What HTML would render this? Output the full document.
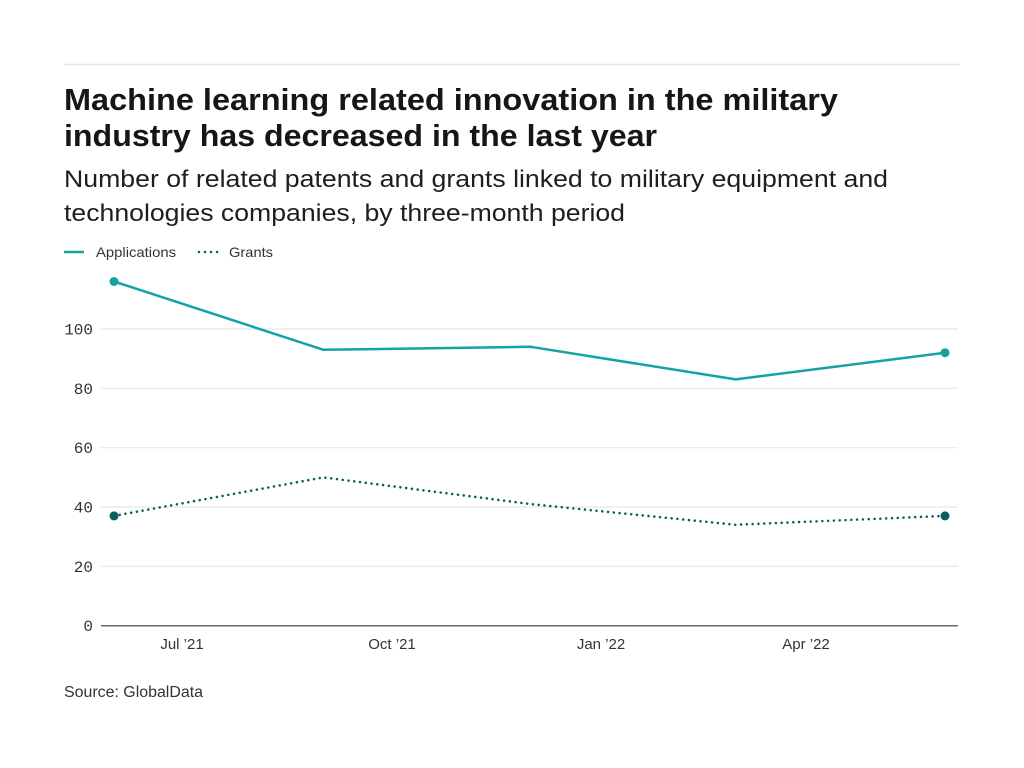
<!DOCTYPE html>
<html>
<head>
<meta charset="utf-8">
<style>
  html, body { margin:0; padding:0; background:#ffffff; }
  svg { display:block; }
</style>
</head>
<body>
<svg width="1024" height="768" viewBox="0 0 1024 768" xmlns="http://www.w3.org/2000/svg">
  <rect x="0" y="0" width="1024" height="768" fill="#ffffff"/>
  <!-- top rule -->
  <line x1="64" y1="64.5" x2="960" y2="64.5" stroke="#e2e2e2" stroke-width="1.5"/>

  <!-- title -->
  <g font-family="'Liberation Sans', sans-serif" fill="#161616">
    <text x="64" y="110" font-size="30.5" font-weight="bold" textLength="774" lengthAdjust="spacingAndGlyphs">Machine learning related innovation in the military</text>
    <text x="64" y="146" font-size="30.5" font-weight="bold" textLength="593" lengthAdjust="spacingAndGlyphs">industry has decreased in the last year</text>
    <text x="64" y="187" font-size="24" textLength="824" lengthAdjust="spacingAndGlyphs" fill="#1e1e1e">Number of related patents and grants linked to military equipment and</text>
    <text x="64" y="221" font-size="24" textLength="561" lengthAdjust="spacingAndGlyphs" fill="#1e1e1e">technologies companies, by three-month period</text>
  </g>

  <!-- legend -->
  <line x1="64" y1="252" x2="84" y2="252" stroke="#14a3a3" stroke-width="2.5"/>
  <text x="96" y="257" font-family="'Liberation Sans', sans-serif" font-size="14" fill="#333" textLength="80" lengthAdjust="spacingAndGlyphs">Applications</text>
  <line x1="199" y1="252" x2="219" y2="252" stroke="#0b5e5e" stroke-width="2.5" stroke-dasharray="0.01 6" stroke-linecap="round"/>
  <text x="229" y="257" font-family="'Liberation Sans', sans-serif" font-size="14" fill="#333" textLength="44" lengthAdjust="spacingAndGlyphs">Grants</text>

  <!-- gridlines -->
  <g stroke="#e8e8e8" stroke-width="1.2">
    <line x1="101" y1="566.4" x2="958" y2="566.4"/>
    <line x1="101" y1="507" x2="958" y2="507"/>
    <line x1="101" y1="447.7" x2="958" y2="447.7"/>
    <line x1="101" y1="388.3" x2="958" y2="388.3"/>
    <line x1="101" y1="329" x2="958" y2="329"/>
  </g>
  <!-- axis -->
  <line x1="101" y1="625.7" x2="958" y2="625.7" stroke="#6a6a6a" stroke-width="1.5"/>

  <!-- y labels -->
  <g font-family="'Liberation Mono', monospace" font-size="16" fill="#333" text-anchor="end">
    <text x="93" y="631">0</text>
    <text x="93" y="572">20</text>
    <text x="93" y="512.5">40</text>
    <text x="93" y="453">60</text>
    <text x="93" y="394">80</text>
    <text x="93" y="334.5">100</text>
  </g>

  <!-- x labels -->
  <g font-family="'Liberation Sans', sans-serif" font-size="15" fill="#333" text-anchor="middle">
    <text x="182" y="649">Jul ’21</text>
    <text x="392" y="649">Oct ’21</text>
    <text x="601" y="649">Jan ’22</text>
    <text x="806" y="649">Apr ’22</text>
  </g>

  <!-- Applications -->
  <polyline points="114,281.5 323.5,349.8 530.7,346.8 735.6,379.4 945,352.7" fill="none" stroke="#14a3a3" stroke-width="2.5" stroke-linejoin="round"/>
  <circle cx="114" cy="281.5" r="4.5" fill="#14a3a3"/>
  <circle cx="945" cy="352.7" r="4.5" fill="#14a3a3"/>

  <!-- Grants -->
  <polyline points="114,515.9 323.5,477.4 530.7,504.1 735.6,524.8 945,515.9" fill="none" stroke="#0b5e5e" stroke-width="2.6" stroke-dasharray="0.01 5.8" stroke-linecap="round" stroke-linejoin="round"/>
  <circle cx="114" cy="515.9" r="4.5" fill="#0b5e5e"/>
  <circle cx="945" cy="515.9" r="4.5" fill="#0b5e5e"/>

  <!-- source -->
  <text x="64" y="697" font-family="'Liberation Sans', sans-serif" font-size="15.5" fill="#333" textLength="139" lengthAdjust="spacingAndGlyphs">Source: GlobalData</text>
</svg>
</body>
</html>
